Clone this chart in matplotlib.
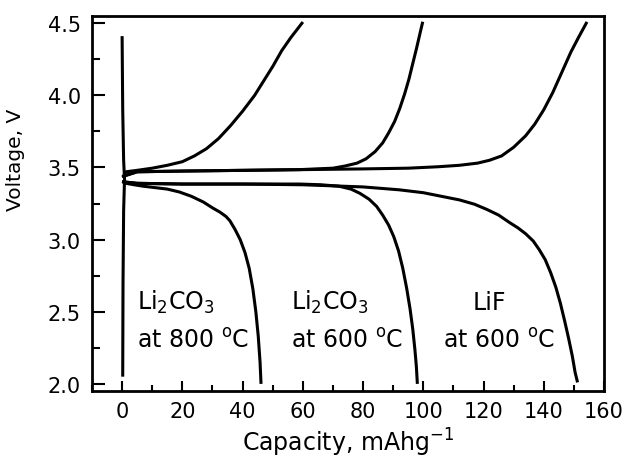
import matplotlib
matplotlib.use('Agg')
import matplotlib.pyplot as plt

plt.rcParams['font.family'] = ['DejaVu Sans']
plt.rcParams['mathtext.default'] = 'regular'

# initial voltage step at zero capacity
step_cap = [0.0, 0.2, 0.5, 0.8, 0.5, 0.3, 0.2]
step_v = [4.40, 3.90, 3.55, 3.42, 3.20, 2.70, 2.06]

# Li2CO3, 800 C
chg800_cap = [0.5, 1.3, 5, 10, 15, 20, 24, 28, 32, 36, 40, 44, 47, 50, 53, 56, 59.7]
chg800_v = [3.44, 3.47, 3.48, 3.495, 3.515, 3.54, 3.58, 3.63, 3.70, 3.79, 3.89, 4.00, 4.10, 4.20, 4.31, 4.40, 4.50]
dis800_cap = [0.5, 1.3, 4, 7, 11, 15, 19, 23, 27, 30, 32.5, 34.5, 35.8, 37.5, 39.2, 40.8, 42.2, 43.4, 44.4, 45.2, 45.8, 46.1]
dis800_v = [3.40, 3.39, 3.38, 3.37, 3.36, 3.35, 3.33, 3.30, 3.26, 3.22, 3.19, 3.16, 3.13, 3.07, 3.00, 2.91, 2.80, 2.66, 2.50, 2.33, 2.15, 2.01]

# Li2CO3, 600 C
chg600_cap = [0.5, 5, 20, 40, 59, 70, 74, 78, 81, 84, 86.5, 88.5, 90.5, 92.2, 93.8, 95.2, 96.5, 97.8, 98.8, 99.7]
chg600_v = [3.44, 3.47, 3.475, 3.48, 3.485, 3.495, 3.51, 3.53, 3.56, 3.61, 3.67, 3.74, 3.82, 3.91, 4.01, 4.11, 4.22, 4.33, 4.42, 4.50]
dis600_cap = [0.5, 5, 20, 40, 59, 66, 72, 76, 79, 82, 84.5, 86.5, 88.5, 90.2, 91.8, 93.2, 94.5, 95.6, 96.5, 97.2, 97.7, 98.0]
dis600_v = [3.40, 3.39, 3.385, 3.385, 3.385, 3.38, 3.37, 3.35, 3.32, 3.28, 3.23, 3.17, 3.10, 3.02, 2.92, 2.80, 2.66, 2.52, 2.38, 2.24, 2.12, 2.01]

# LiF, 600 C
chglif_cap = [0.5, 5, 20, 40, 60, 80, 95, 105, 112, 118, 122, 126, 130, 134, 137, 140, 143, 146, 149, 151.5, 154.1]
chglif_v = [3.44, 3.47, 3.475, 3.48, 3.485, 3.49, 3.495, 3.505, 3.515, 3.53, 3.55, 3.58, 3.64, 3.72, 3.80, 3.90, 4.02, 4.16, 4.30, 4.40, 4.50]
dislif_cap = [0.5, 5, 20, 40, 60, 80, 92, 100, 106, 112, 117, 121, 125, 128.5, 131.5, 134, 136.5, 138.5, 140.5,
              142.3, 144, 145.5, 147, 148.3, 149.5, 150.4, 151.1]
dislif_v = [3.40, 3.39, 3.385, 3.385, 3.38, 3.365, 3.345, 3.325, 3.30, 3.275, 3.245, 3.21, 3.17, 3.12, 3.08, 3.04, 2.99, 2.93, 2.86,
            2.77, 2.67, 2.56, 2.43, 2.31, 2.19, 2.08, 2.02]

fig = plt.figure(figsize=(6.25, 4.6), dpi=100)
ax = fig.add_axes([0.1472, 0.1478, 0.8192, 0.8152])

lw = 2.2
ax.plot(step_cap, step_v, color='black', lw=lw)
for c, v in [(chg800_cap, chg800_v), (dis800_cap, dis800_v),
             (chg600_cap, chg600_v), (dis600_cap, dis600_v),
             (chglif_cap, chglif_v), (dislif_cap, dislif_v)]:
    ax.plot(c, v, color='black', lw=lw, solid_joinstyle='round')

ax.set_xlim(-10, 160)
ax.set_ylim(1.95, 4.55)
ax.set_xticks(range(0, 161, 20))
ax.set_xticks(range(-10, 160, 10), minor=True)
ax.set_yticks([2.0, 2.5, 3.0, 3.5, 4.0, 4.5])
ax.set_yticks([2.25, 2.75, 3.25, 3.75, 4.25], minor=True)
ax.set_yticklabels(['2.0', '2.5', '3.0', '3.5', '4.0', '4.5'])

ax.tick_params(axis='both', which='both', direction='in', top=False, right=False,
               labelsize=15, width=1.5)
ax.tick_params(axis='x', which='major', length=7, pad=7)
ax.tick_params(axis='x', which='minor', length=4.5)
ax.tick_params(axis='y', which='major', length=9, pad=8)
ax.tick_params(axis='y', which='minor', length=6)
for s in ax.spines.values():
    s.set_linewidth(2)

ax.set_xlabel('Capacity, mAhg$^{-1}$', fontsize=17, labelpad=4)
ax.set_ylabel('Voltage, V', fontsize=14.5)
ax.yaxis.set_label_coords(-0.13, 0.62)

fs = 17
ax.text(5, 2.52, 'Li$_2$CO$_3$', fontsize=fs)
ax.text(5, 2.26, 'at 800 $^o$C', fontsize=fs)
ax.text(56, 2.52, 'Li$_2$CO$_3$', fontsize=fs)
ax.text(56, 2.26, 'at 600 $^o$C', fontsize=fs)
ax.text(116.5, 2.52, 'LiF', fontsize=fs)
ax.text(106.5, 2.26, 'at 600 $^o$C', fontsize=fs)

fig.savefig('out.png', dpi=100)
